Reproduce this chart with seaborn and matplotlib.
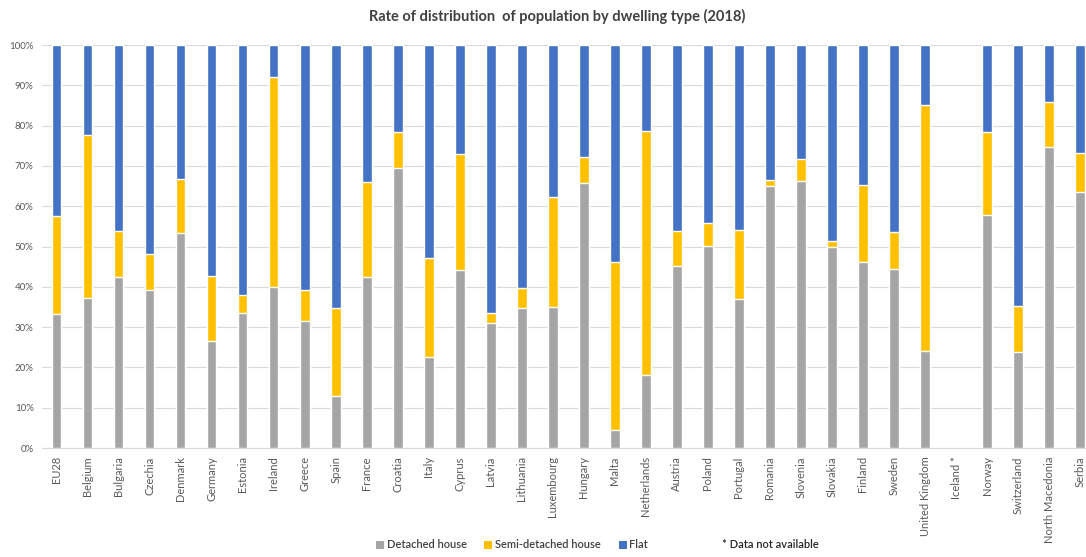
import numpy as np
import pandas as pd
import matplotlib
matplotlib.use("Agg")
import matplotlib.pyplot as plt
from matplotlib.patches import Patch
import seaborn as sns

countries = ["EU28", "Belgium", "Bulgaria", "Czechia", "Denmark", "Germany", "Estonia",
             "Ireland", "Greece", "Spain", "France", "Croatia", "Italy", "Cyprus", "Latvia",
             "Lithuania", "Luxembourg", "Hungary", "Malta", "Netherlands", "Austria",
             "Poland", "Portugal", "Romania", "Slovenia", "Slovakia", "Finland", "Sweden",
             "United Kingdom", "Iceland *", "Norway", "Switzerland", "North Macedonia",
             "Serbia"]

# shares in percent; Iceland has no data
detached = [33.3, 37.1, 42.4, 39.1, 53.3, 26.6, 33.6, 40.0, 31.5, 12.9, 42.4, 69.6, 22.7,
            44.1, 30.9, 34.8, 35.1, 65.7, 4.5, 18.0, 45.1, 50.2, 36.9, 65.1, 66.2, 49.8,
            46.1, 44.5, 24.0, np.nan, 57.8, 23.7, 74.7, 63.6]
semi_detached = [24.3, 40.6, 11.4, 9.0, 13.4, 16.2, 4.4, 52.1, 7.7, 21.9, 23.6, 8.8, 24.4,
                 28.9, 2.7, 5.0, 27.3, 6.5, 41.6, 60.7, 8.7, 5.6, 17.2, 1.3, 5.6, 1.6,
                 19.1, 9.1, 61.1, np.nan, 20.7, 11.5, 11.1, 9.6]
flat = [42.4, 22.3, 46.2, 51.9, 33.3, 57.2, 62.0, 7.9, 60.8, 65.2, 34.0, 21.6, 52.9,
        27.0, 66.4, 60.2, 37.6, 27.8, 53.9, 21.3, 46.2, 44.2, 45.9, 33.6, 28.2, 48.6,
        34.8, 46.4, 14.9, np.nan, 21.5, 64.8, 14.2, 26.8]

series_names = ["Detached house", "Semi-detached house", "Flat"]
series_colors = ["#A5A5A5", "#FFC000", "#4472C4"]

df = pd.DataFrame({"country": countries, "Detached house": detached,
                   "Semi-detached house": semi_detached, "Flat": flat})
df["lvl1"] = df["Detached house"]
df["lvl2"] = df["lvl1"] + df["Semi-detached house"]
df["lvl3"] = df["lvl2"] + df["Flat"]

sns.set_theme(style="white")
plt.rcParams["font.family"] = ["Lato", "DejaVu Sans"]

fig = plt.figure(figsize=(10.86, 5.57), dpi=100)
ax = fig.add_axes([42 / 1086, 1 - 448 / 557, 1 - 42 / 1086, (448 - 45) / 557])

# stacked bars drawn back to front as cumulative totals
for col, color in zip(["lvl3", "lvl2", "lvl1"], series_colors[::-1]):
    sns.barplot(data=df, x="country", y=col, order=countries, color=color,
                width=0.31, saturation=1, ax=ax, zorder=3)

ax.set_xlim(-0.47, len(countries) - 1 + 0.19)
ax.set_ylim(0, 100)
ax.set_yticks(np.arange(0, 101, 10))
ax.set_yticklabels([f"{v}%" for v in range(0, 101, 10)], fontsize=7, color="#595959")
ax.set_xticks(range(len(countries)))
ax.set_xticklabels(countries, rotation=90, fontsize=8, color="#595959")
ax.tick_params(axis="both", length=0, pad=6)
ax.set_xlabel("")
ax.set_ylabel("")
ax.yaxis.grid(True, color="#D9D9D9", linewidth=0.8, zorder=0)
ax.set_axisbelow(True)
for side in ["top", "right", "left"]:
    ax.spines[side].set_visible(False)
ax.spines["bottom"].set_color("#D9D9D9")
ax.spines["bottom"].set_linewidth(0.8)

fig.text(557 / 1086, 1 - 16 / 557, "Rate of distribution  of population by dwelling type (2018)",
         ha="center", va="center", fontsize=10.5, fontweight="bold", color="#404040")

handles = [Patch(facecolor=c, edgecolor="none") for c in series_colors]
fig.legend(handles, series_names, loc="center", bbox_to_anchor=(512 / 1086, 1 - 545 / 557),
           ncol=3, frameon=False, fontsize=8,
           prop={"size": 8, "weight": "semibold"},
           handlelength=0.72, handleheight=0.72,
           handletextpad=0.25, columnspacing=1.6, labelcolor="#404040")
fig.text(722 / 1086, 1 - 545 / 557, "* Data not available", ha="left", va="center",
         fontsize=8, fontweight="semibold", color="#262626")

fig.savefig("out.png", dpi=100)
